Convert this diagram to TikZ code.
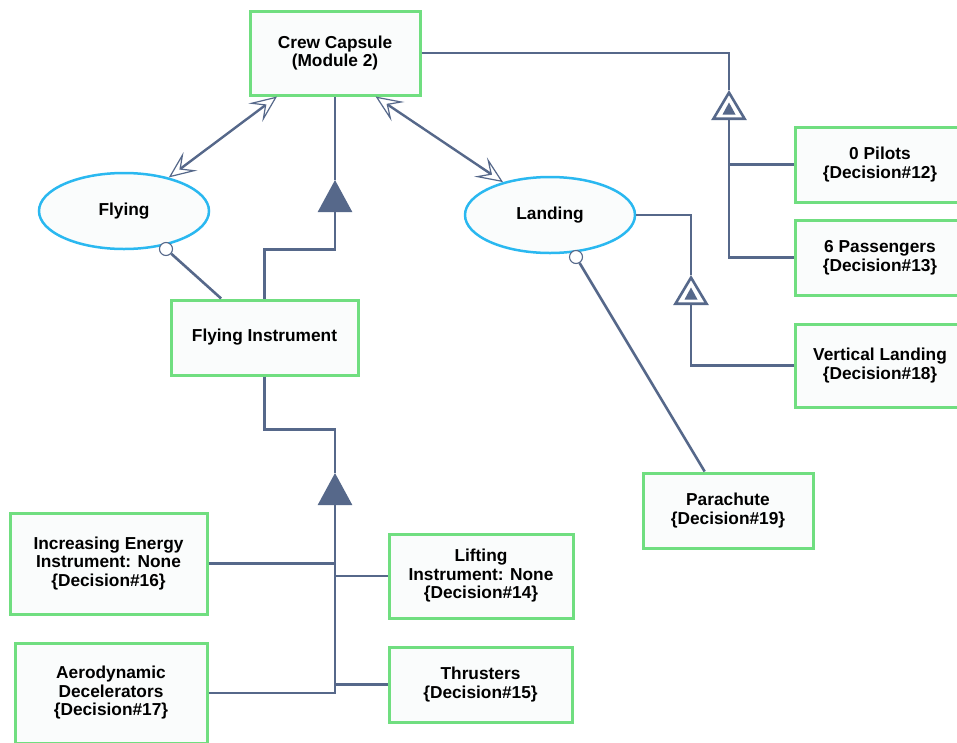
\documentclass[tikz,border=0pt]{standalone}
\usepackage{fontspec}
\setmainfont{Liberation Sans}
\usetikzlibrary{arrows.meta,calc,positioning,shapes.geometric}
\definecolor{slate}{RGB}{86,104,138}
\definecolor{boxgreen}{RGB}{112,222,128}
\definecolor{ellblue}{RGB}{42,184,240}
\definecolor{paper}{RGB}{250,252,252}

\begin{document}
\begin{tikzpicture}[x=1pt,y=-1pt,
  every node/.style={font=\bfseries\fontsize{17.3}{18.5}\selectfont,align=center,inner sep=0pt},
  part/.style={rectangle,draw=boxgreen,fill=paper,line width=3pt},
  usecase/.style={ellipse,draw=ellblue,fill=paper,line width=2.5pt,minimum width=170pt,minimum height=76pt},
  port/.style={circle,draw=slate,fill=white,line width=1.1pt,minimum size=13pt},
  link/.style={draw=slate,line width=2.6pt},
  gen/.style={link,-{Triangle[width=34pt,length=32pt]}},
  genopen/.style={link,-{Triangle[open,width=35pt,length=30pt]}},
  assoc/.style={link,line width=2.4pt,{Stealth[open,length=27pt,width=23pt,inset=12pt,line width=1.2pt]}-{Stealth[open,length=27pt,width=23pt,inset=12pt,line width=1.2pt]}}]
\useasboundingbox (0,0) rectangle (957,742);
\fill[white] (0,0) rectangle (957,742);
\node[part,minimum width=170pt,minimum height=84pt] (crew) at (335,53) {Crew Capsule\\(Module 2)};
\node[usecase] (flying) at (124,211) {Flying};
\node[usecase] (landing) at (550,215) {Landing};
\node[part,minimum width=187pt,minimum height=75pt] (flyinst) at (264.5,337.5) {Flying Instrument};
\node[part,minimum width=170pt,minimum height=75pt] (pilots) at (880,164.5) {0 Pilots\\\{Decision\#12\}};
\node[part,minimum width=170pt,minimum height=75pt] (pass) at (880,257.5) {6 Passengers\\\{Decision\#13\}};
\node[part,minimum width=170pt,minimum height=83pt] (vert) at (880,365.5) {Vertical Landing\\\{Decision\#18\}};
\node[part,minimum width=170pt,minimum height=75pt] (para) at (728,510.5) {Parachute\\\{Decision\#19\}};
\node[part,minimum width=197pt,minimum height=101pt] (incr) at (108.5,563.5) {Increasing Energy\\Instrument: None\\\{Decision\#16\}};
\node[part,minimum width=184pt,minimum height=84pt] (lift) at (481,576) {Lifting\\Instrument: None\\\{Decision\#14\}};
\node[part,minimum width=183pt,minimum height=75pt] (thrust) at (480.5,684.5) {Thrusters\\\{Decision\#15\}};
\node[part,minimum width=192pt,minimum height=100pt] (aero) at (111,693) {Aerodynamic\\Decelerators\\\{Decision\#17\}};
\node[port] (fport) at (166,249) {};
\node[port] (lport) at (576,257) {};
\coordinate (g1) at (335,180);
\coordinate (g2) at (335,473);
\coordinate (g3) at (729,90);
\coordinate (g4) at (691,275);
\draw[assoc] (crew) -- (flying);
\draw[assoc] (crew.313) -- (landing.145);
\draw[link] (fport) -- (flyinst);
\draw[link] (lport) -- (para);
\draw[link] (g1) -- (crew.south);
\draw[gen] (flyinst.north) -- ++(0,-49) -| (g1);
\draw[link] (flyinst.south) -- ++(0,53) -| (g2);
\draw[gen] (aero) -| (g2);
\draw[link] (incr.east) -- (incr.east -| g2);
\draw[link] (lift.west) -- (lift.west -| g2);
\draw[link] (thrust.west) -- (thrust.west -| g2);
\draw[link] (crew.east) -| (g3);
\draw[genopen] (pass) -| (g3);
\draw[link] (pilots.west) -- (pilots.west -| g3);
\fill[slate] ($(g3)+(0,12.5)$) -- ++(6.5,12) -- ++(-13,0) -- cycle;
\draw[link] (landing.east) -| (g4);
\draw[genopen] (vert) -| (g4);
\fill[slate] ($(g4)+(0,12.5)$) -- ++(6.5,12) -- ++(-13,0) -- cycle;
\end{tikzpicture}
\end{document}
